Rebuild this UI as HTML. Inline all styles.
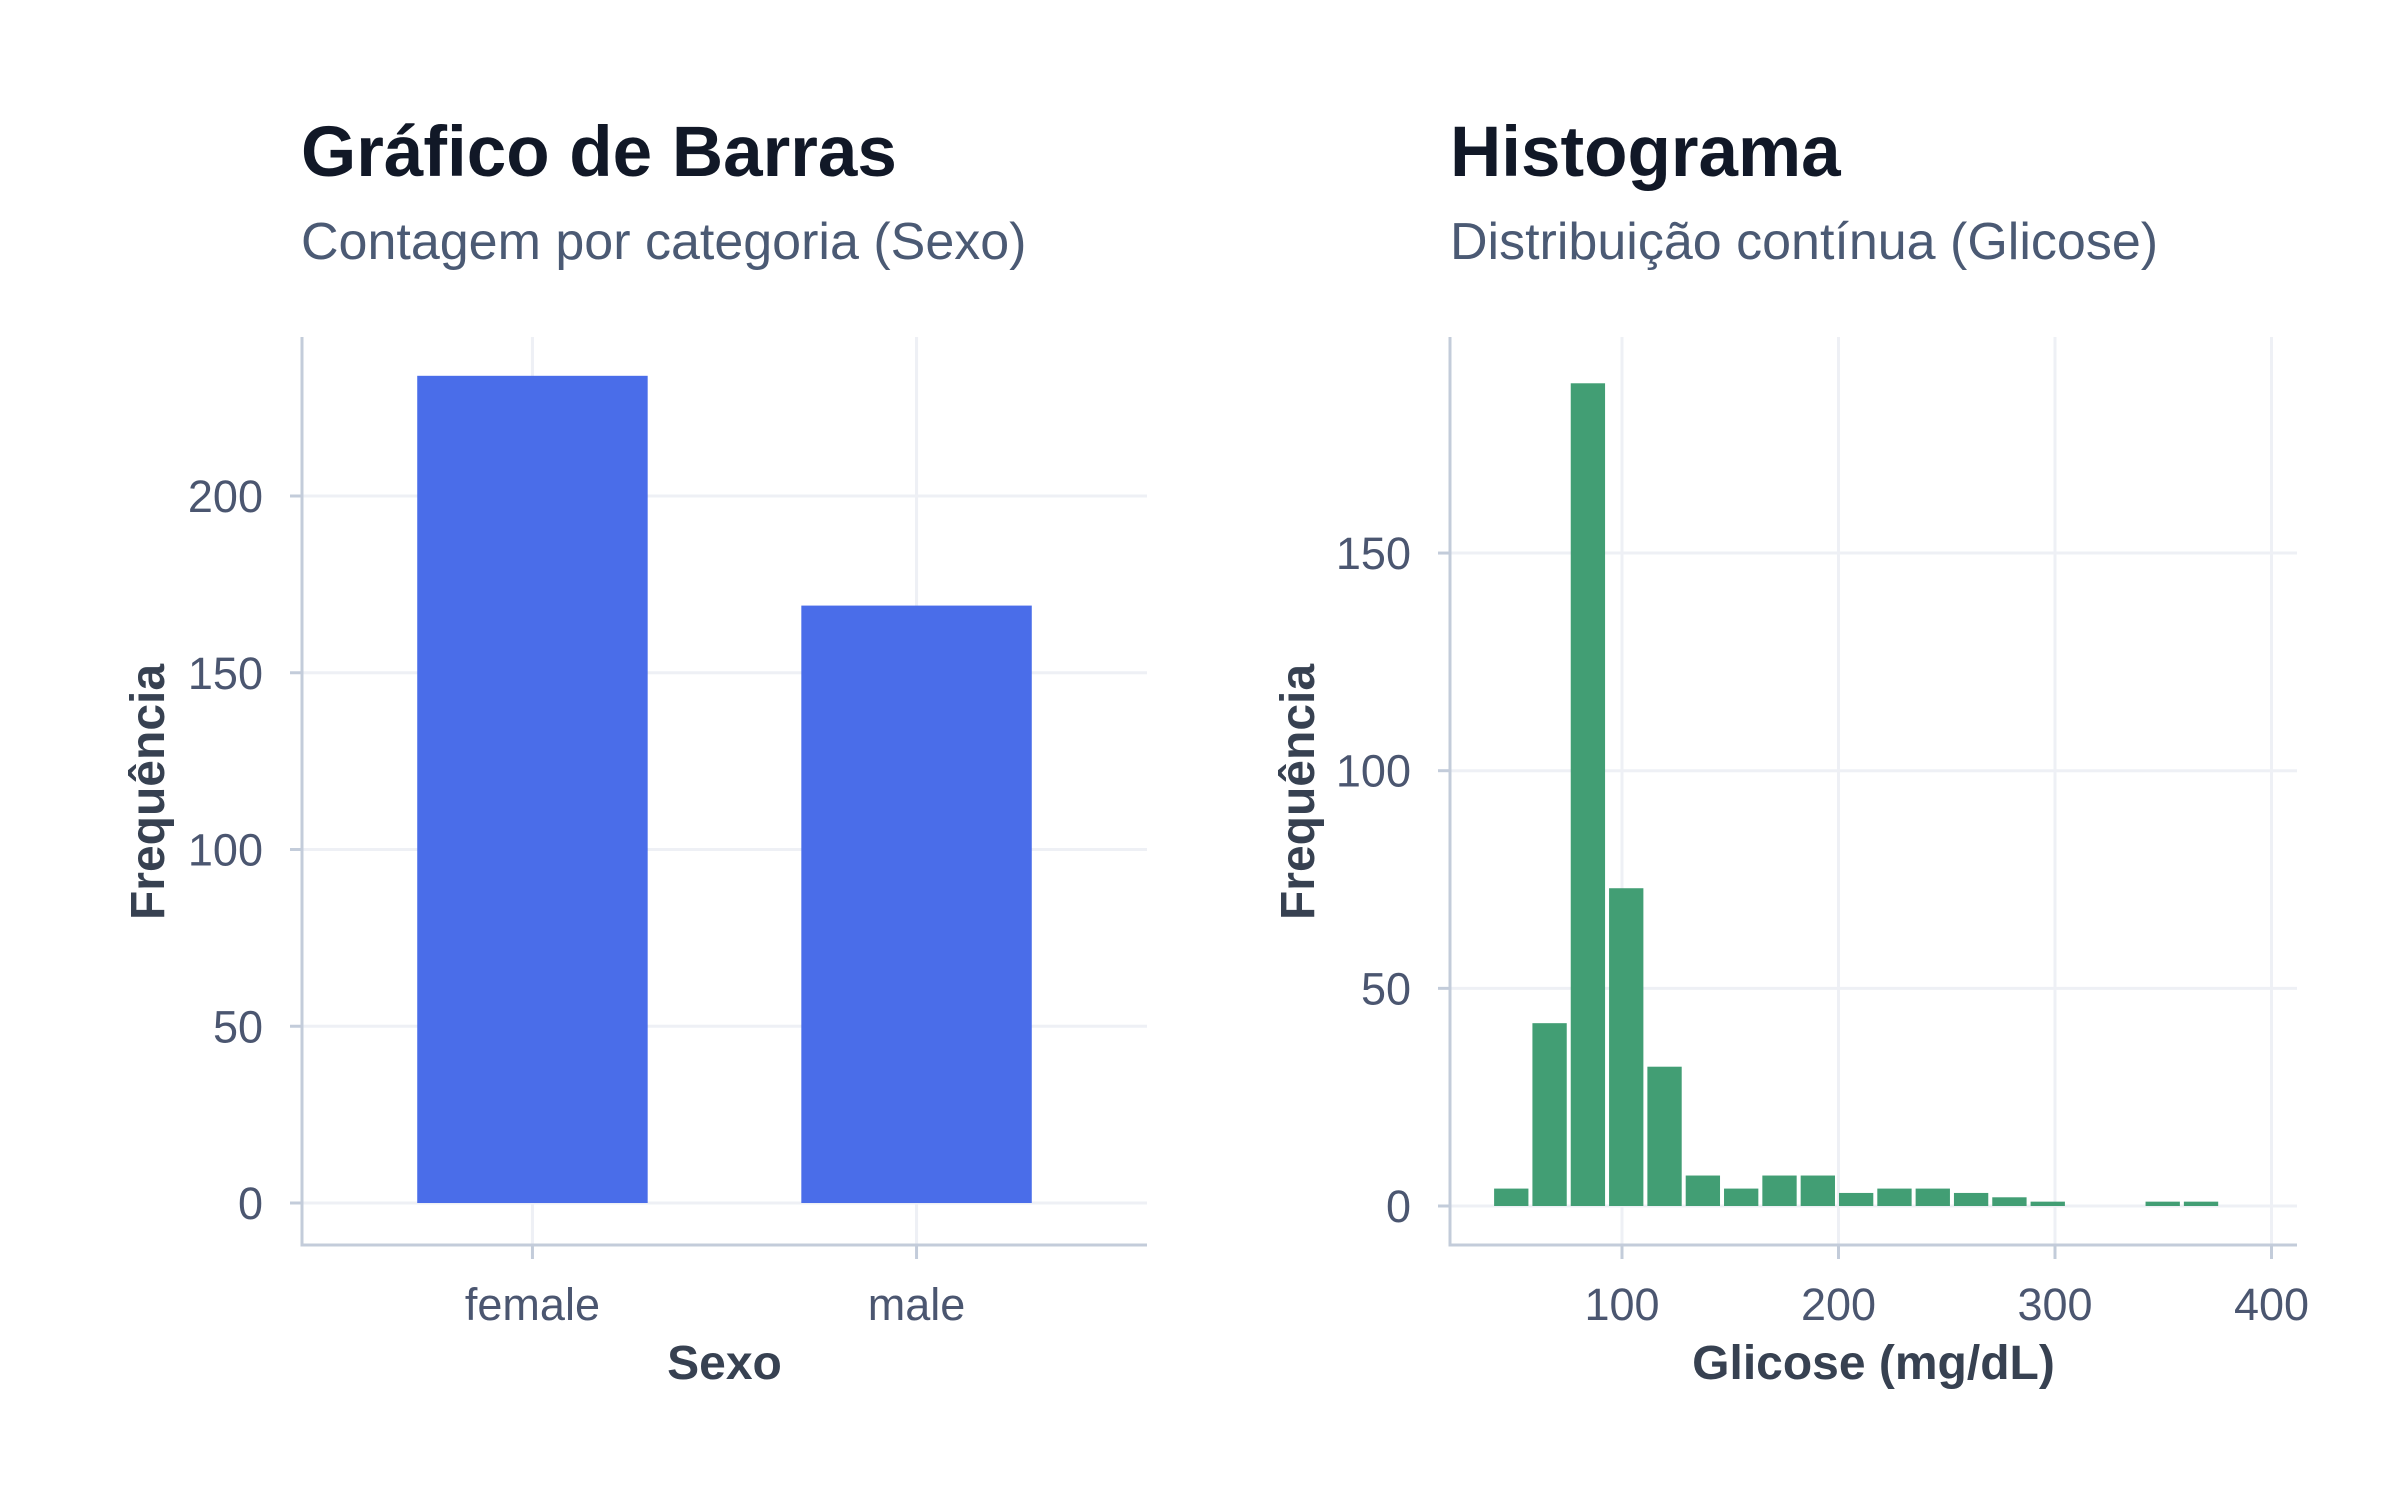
<!DOCTYPE html>
<html><head><meta charset="utf-8"><style>
html,body{margin:0;padding:0;background:#fff;}
svg{display:block;font-family:"Liberation Sans",Arial,sans-serif;}
</style></head><body>
<svg id="c" width="2400" height="1500" viewBox="0 0 2400 1500">
<text x="301" y="176" font-size="71" font-weight="bold" fill="#111827">Gráfico de Barras</text>
<text x="301" y="259" font-size="52" fill="#4b5a74">Contagem por categoria (Sexo)</text>
<text x="1450" y="176" font-size="71" font-weight="bold" fill="#111827">Histograma</text>
<text x="1450" y="259" font-size="52" fill="#4b5a74">Distribuição contínua (Glicose)</text>
<g id="left"></g>
<g id="right"></g>
</svg>
<script>
const categories = ["female", "male"];
const counts = [234, 169];
const barTicks = [0, 50, 100, 150, 200];
const binStart = 40;
const binWidth = 17.7;
const histCounts = [4, 42, 189, 73, 32, 7, 4, 7, 7, 3, 4, 4, 3, 2, 1, 0, 0, 1, 1];
const histYTicks = [0, 50, 100, 150];
const histXTicks = [100, 200, 300, 400];

const NS = "http://www.w3.org/2000/svg";
function mk(parent, tag, attrs, text) {
  const e = document.createElementNS(NS, tag);
  for (const k in attrs) e.setAttribute(k, attrs[k]);
  if (text !== undefined) e.textContent = text;
  parent.appendChild(e);
  return e;
}
const GRID = "#eef0f5", AXIS = "#c3ccda", TICKC = "#4b5670", TITLEC = "#374151";
const TICKFS = 45, AXFS = 48;

// ---- Left bar chart ----
(function(){
  const g = document.getElementById("left");
  const L = 302, R = 1147, T = 337, B = 1245, y0 = 1203, ppu = 3.535;
  const y = v => y0 - v * ppu;
  // discrete scale with expansion: centers at 0.274 and 0.73 of the panel
  const n = categories.length;
  const pad = 0.6;
  const xc = i => L + (R - L) * (i + pad) / (n - 1 + 2 * pad);
  const bw = (R - L) / (n - 1 + 2 * pad) * 0.6;
  barTicks.forEach(t => {
    const l = mk(g, "line", {x1: L, x2: R, y1: y(t), y2: y(t), stroke: GRID, "stroke-width": 3});
    
    
    mk(g, "line", {x1: L - 12, x2: L, y1: y(t), y2: y(t), stroke: AXIS, "stroke-width": 3});
    const tx = mk(g, "text", {x: 263, y: y(t) + 16, "font-size": TICKFS, fill: TICKC, "text-anchor": "end"}, String(t));
    
    
  });
  categories.forEach((c, i) => {
    mk(g, "line", {x1: xc(i), x2: xc(i), y1: T, y2: B, stroke: GRID, "stroke-width": 3});
  });
  categories.forEach((c, i) => {
    const r = mk(g, "rect", {x: xc(i) - bw / 2, y: y(counts[i]), width: bw, height: counts[i] * ppu, fill: "#4a6de9"});
    
    
    mk(g, "line", {x1: xc(i), x2: xc(i), y1: B, y2: B + 14, stroke: AXIS, "stroke-width": 3});
    const tx = mk(g, "text", {x: xc(i), y: 1320, "font-size": TICKFS, fill: TICKC, "text-anchor": "middle"}, c);
    
    
  });
  const ax = mk(g, "path", {d: `M${L} ${T} V${B} H${R}`, stroke: AXIS, "stroke-width": 3, fill: "none"});
  
  
  const xt = mk(g, "text", {x: (L + R) / 2, y: 1379, "font-size": AXFS, "font-weight": "bold", fill: TITLEC, "text-anchor": "middle"}, "Sexo");
  
  
  const yt = mk(g, "text", {x: 0, y: 0, "font-size": AXFS, "font-weight": "bold", fill: TITLEC, "text-anchor": "middle", transform: "translate(164 792) rotate(-90)"}, "Frequência");
  
  
})();

// ---- Right histogram ----
(function(){
  const g = document.getElementById("right");
  const L = 1450, R = 2297, T = 337, B = 1245, y0 = 1206, ppu = 4.353;
  const y = v => y0 - v * ppu;
  const x = v => 1622 + (v - 100) * 2.165;
  histYTicks.forEach(t => {
    const l = mk(g, "line", {x1: L, x2: R, y1: y(t), y2: y(t), stroke: GRID, "stroke-width": 3});
    
    
    mk(g, "line", {x1: L - 12, x2: L, y1: y(t), y2: y(t), stroke: AXIS, "stroke-width": 3});
    const tx = mk(g, "text", {x: 1411, y: y(t) + 16, "font-size": TICKFS, fill: TICKC, "text-anchor": "end"}, String(t));
    
    
  });
  histXTicks.forEach(t => {
    mk(g, "line", {x1: x(t), x2: x(t), y1: T, y2: B, stroke: GRID, "stroke-width": 3});
    mk(g, "line", {x1: x(t), x2: x(t), y1: B, y2: B + 14, stroke: AXIS, "stroke-width": 3});
    const tx = mk(g, "text", {x: x(t), y: 1320, "font-size": TICKFS, fill: TICKC, "text-anchor": "middle"}, String(t));
    
    
  });
  histCounts.forEach((v, i) => {
    if (v <= 0) return;
    const a = x(binStart + i * binWidth) + 2, b = x(binStart + (i + 1) * binWidth) - 2;
    const r = mk(g, "rect", {x: a, y: y(v), width: b - a, height: v * ppu, fill: "#429e74"});
    
    
  });
  const ax = mk(g, "path", {d: `M${L} ${T} V${B} H${R}`, stroke: AXIS, "stroke-width": 3, fill: "none"});
  
  
  const xt = mk(g, "text", {x: (L + R) / 2, y: 1379, "font-size": AXFS, "font-weight": "bold", fill: TITLEC, "text-anchor": "middle"}, "Glicose (mg/dL)");
  
  
  const yt = mk(g, "text", {x: 0, y: 0, "font-size": AXFS, "font-weight": "bold", fill: TITLEC, "text-anchor": "middle", transform: "translate(1314 792) rotate(-90)"}, "Frequência");
  
  
})();
</script>
</body></html>
